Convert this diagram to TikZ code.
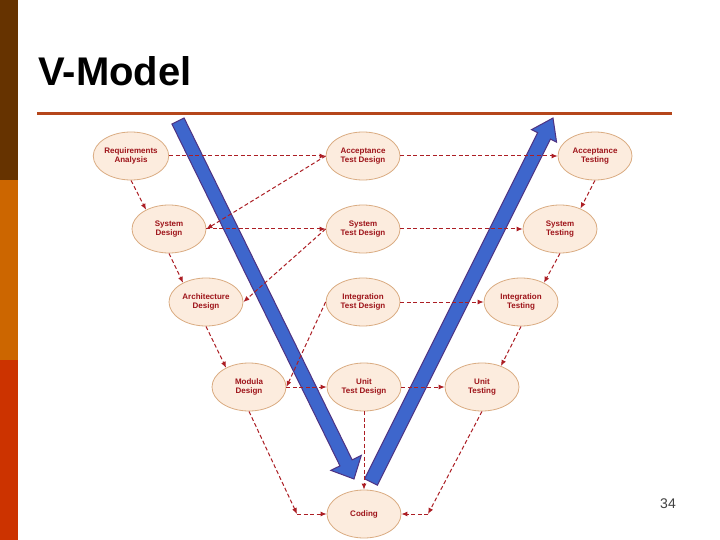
\documentclass[tikz,border=0pt]{standalone}
\usepackage{fontspec}
\setmainfont{Liberation Sans}
\usetikzlibrary{calc}
\usetikzlibrary{arrows.meta}
\usetikzlibrary{shapes.geometric}

\definecolor{barbrown}{RGB}{102,51,0}
\definecolor{barorange}{RGB}{204,102,0}
\definecolor{barred}{RGB}{204,51,0}
\definecolor{rulecol}{RGB}{181,70,27}
\definecolor{phasefill}{RGB}{252,236,222}
\definecolor{phaseline}{RGB}{218,172,130}
\definecolor{phasetext}{RGB}{158,20,26}
\definecolor{flowcol}{RGB}{172,30,36}
\definecolor{vblue}{RGB}{62,102,204}
\definecolor{vedge}{RGB}{78,50,130}

\begin{document}
\begin{tikzpicture}[x=1pt,y=-1pt,
	phase/.style={ellipse,draw=phaseline,fill=phasefill,line width=0.8pt,minimum width=74pt,minimum height=48pt,inner sep=0pt,align=center,text=phasetext,font=\fontsize{8}{9.5}\selectfont\bfseries},
	flow/.style={draw=flowcol,line width=1pt,dash pattern=on 4pt off 2.5pt,-{Latex[length=6pt,width=5pt]}},
	varrow/.style={draw=vedge,fill=vblue,line width=1pt,line join=miter}]
		\useasboundingbox (0,0) rectangle (720,540);
		\fill[white] (0,0) rectangle (720,540);
		% side bar and title
		\fill[barbrown] (0,0) rectangle (18,180);
		\fill[barorange] (0,180) rectangle (18,360);
		\fill[barred] (0,360) rectangle (18,540);
		\node[anchor=base west,inner sep=0pt,font=\fontsize{40}{40}\selectfont\bfseries] (title) at (38,86) {V-Model};
		\draw[rulecol,line width=3pt] (37,114) -- (672,114);
		\node[font=\fontsize{14}{14}\selectfont,text=black!75] (page) at (668,504) {34};
		% the two big arrows of the V
		\coordinate (la) at (178,121);
		\coordinate (lb) at (354,479);
		\coordinate (lc) at ($(lb)!18pt!(la)$);
		\draw[varrow] ($(la)!6.8pt!90:(lb)$) -- ($(lc)!6.8pt!90:(lb)$) -- ($(lc)!17pt!90:(lb)$) -- (lb)
			-- ($(lc)!17pt!-90:(lb)$) -- ($(lc)!6.8pt!-90:(lb)$) -- ($(la)!6.8pt!-90:(lb)$) -- cycle;
		\coordinate (ra) at (371,482);
		\coordinate (rb) at (553,118);
		\coordinate (rc) at ($(rb)!20pt!(ra)$);
		\draw[varrow] ($(ra)!7.2pt!90:(rb)$) -- ($(rc)!7.2pt!90:(rb)$) -- ($(rc)!14pt!90:(rb)$) -- (rb)
			-- ($(rc)!14pt!-90:(rb)$) -- ($(rc)!7.2pt!-90:(rb)$) -- ($(ra)!7.2pt!-90:(rb)$) -- cycle;
		% phases
		\node[phase] (req) at (131,156) {Requirements\\Analysis};
		\node[phase] (atd) at (363,156) {Acceptance\\Test Design};
		\node[phase] (at) at (595,156) {Acceptance\\Testing};
		\node[phase] (sd) at (169,229) {System\\Design};
		\node[phase] (std) at (363,229) {System\\Test Design};
		\node[phase] (st) at (560,229) {System\\Testing};
		\node[phase] (ad) at (206,302) {Architecture\\Design};
		\node[phase] (itd) at (363,302) {Integration\\Test Design};
		\node[phase] (it) at (521,302) {Integration\\Testing};
		\node[phase] (md) at (249,387) {Modula\\Design};
		\node[phase] (utd) at (364,387) {Unit\\Test Design};
		\node[phase] (ut) at (482,387) {Unit\\Testing};
		\node[phase] (cod) at (364,514) {Coding};
		\coordinate (mdc) at (297,514);
		\coordinate (utc) at (428,514);
		% rows
		\draw[flow] (req) -- (atd);
		\draw[flow] (atd) -- (at);
		\draw[flow] (sd) -- (std);
		\draw[flow] (std) -- (st);
		\draw[flow] (itd) -- (it);
		\draw[flow] (md) -- (utd);
		\draw[flow] (utd) -- (ut);
		% back to the design side
		\draw[flow] (atd.west) -- (sd.east);
		\draw[flow] (std.west) -- (ad.east);
		\draw[flow] (itd.west) -- (md.east);
		% down the left
		\draw[flow] (req.south) -- (sd.140);
		\draw[flow] (sd.south) -- (ad.140);
		\draw[flow] (ad.south) -- (md.140);
		% down the right
		\draw[flow] (at.south) -- (st.45);
		\draw[flow] (st.south) -- (it.40);
		\draw[flow] (it.south) -- (ut.48);
		% into coding
		\draw[flow] (utd) -- (cod);
		\draw[flow] (md.south) -- (mdc);
		\draw[flow] (mdc) -- (cod);
		\draw[flow] (ut.south) -- (utc);
		\draw[flow] (utc) -- (cod);
\end{tikzpicture}
\end{document}
